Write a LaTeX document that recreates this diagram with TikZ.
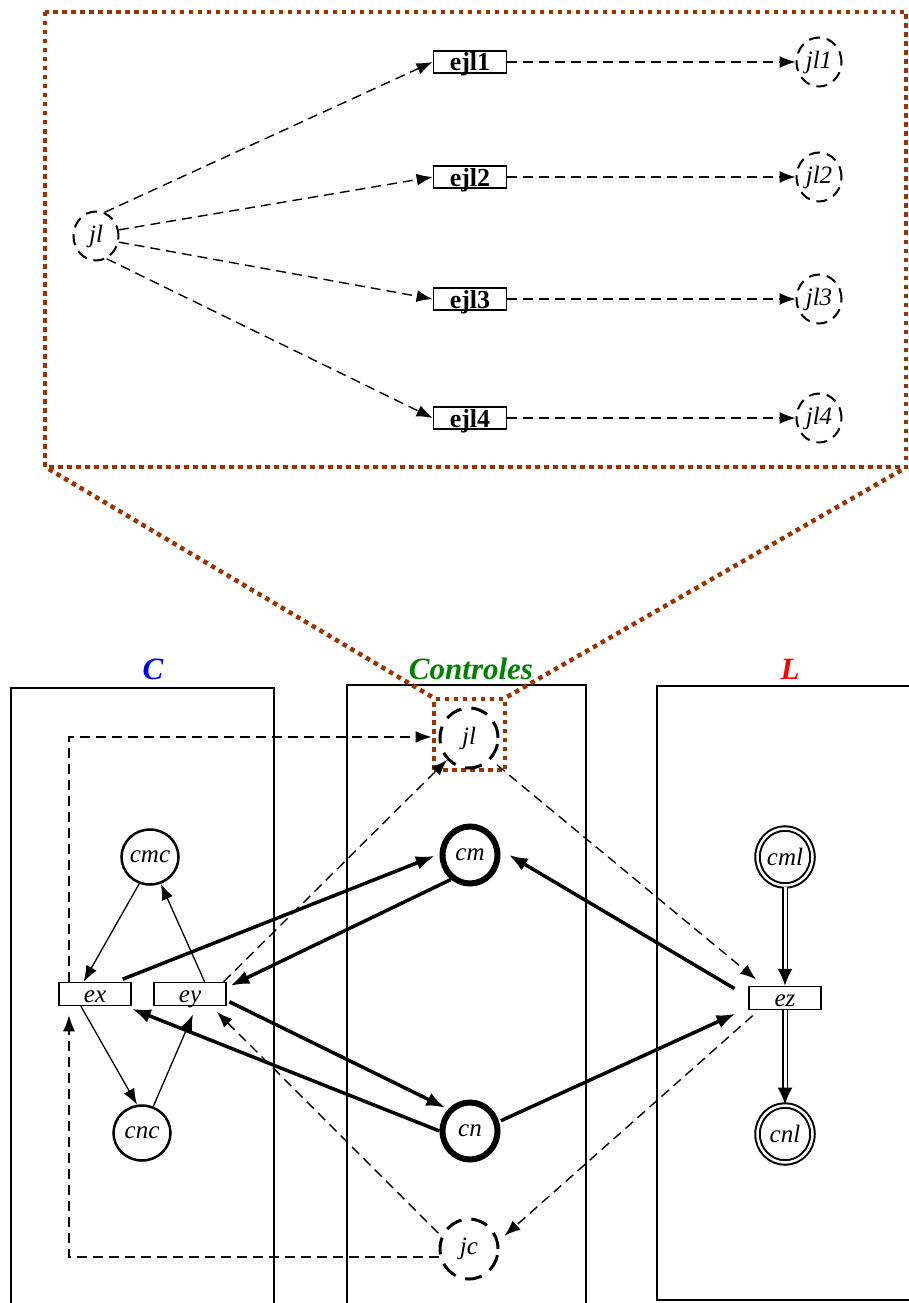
\documentclass[tikz,border=0pt]{standalone}
\usepackage{fontspec}
\setmainfont{Liberation Serif}
\usetikzlibrary{arrows.meta,shapes.geometric,calc}
\definecolor{brn}{RGB}{153,51,0}
\definecolor{cgreen}{RGB}{0,128,0}
\begin{document}
\begin{tikzpicture}[x=1pt,y=-1pt,
 lbl/.style={font=\fontsize{25}{27}\selectfont\itshape},
 title/.style={font=\fontsize{31}{33}\selectfont\bfseries\itshape},
 zoomline/.style={draw=brn, line width=4.5pt, dash pattern=on 4.5pt off 4.5pt},
 colbox/.style={line width=1.5pt},
 ebox/.style={draw, line width=1.8pt, rectangle, inner sep=0pt, minimum width=73pt, text height=20pt, text depth=2pt, inner ysep=0pt, font=\fontsize{26}{28}\selectfont\bfseries},
 sbox/.style={draw, line width=1.5pt, rectangle, inner sep=0pt, minimum width=72pt, text height=19pt, text depth=2pt, inner ysep=1pt, lbl},
 jlsmall/.style={draw, ellipse, dash pattern=on 11pt off 7pt, line width=2pt, inner sep=0pt, minimum width=45pt, minimum height=49pt, lbl},
 jlbig/.style={draw, ellipse, dash pattern=on 17pt off 10pt, line width=3pt, inner sep=0pt, minimum width=58pt, minimum height=60pt, lbl},
 plain/.style={draw, ellipse, line width=2.5pt, inner sep=0pt, minimum width=57pt, minimum height=55pt, lbl},
 heavy/.style={draw, ellipse, line width=6pt, inner sep=0pt, minimum width=55pt, minimum height=57pt, lbl},
 dbl/.style={draw, ellipse, double, double distance=2.5pt, line width=2pt, inner sep=0pt, minimum width=55pt, minimum height=57pt, lbl},
 arr/.style={-{Latex[length=16pt,width=12pt]}},
 thinarr/.style={arr, line width=1.3pt},
 thickarr/.style={-{Latex[length=19pt,width=14pt]}, line width=3.5pt},
 dsh/.style={arr, line width=1.4pt, dash pattern=on 10pt off 6pt},
 dblarr/.style={double, double distance=3pt, line width=1.6pt, -{Latex[length=17pt,width=15pt]}}
]
\useasboundingbox (0,0) rectangle (909,1303);

% ---------- magnified view ----------
\draw[zoomline] (45,12) rectangle (906,467);
\node[jlsmall] (jlz) at (96,236) {jl};
\node[ebox] (e1) at (470,62) {ejl1};
\node[ebox] (e2) at (470,177) {ejl2};
\node[ebox] (e3) at (470,299) {ejl3};
\node[ebox] (e4) at (470,418) {ejl4};
\node[jlsmall] (j1) at (819,62) {jl1};
\node[jlsmall] (j2) at (819,177) {jl2};
\node[jlsmall] (j3) at (819,299) {jl3};
\node[jlsmall] (j4) at (819,418) {jl4};
\draw[dsh] (jlz.70) -- (e1.west);
\draw[dsh] (jlz.15) -- (e2.west);
\draw[dsh] (jlz.-15) -- (e3.west);
\draw[dsh] (jlz.-65) -- (e4.west);
\draw[dsh] (e1.east) -- (j1.west);
\draw[dsh] (e2.east) -- (j2.west);
\draw[dsh] (e3.east) -- (j3.west);
\draw[dsh] (e4.east) -- (j4.west);

% ---------- columns ----------
\draw[colbox] (11,1310) -- (11,688) -- (274,688) -- (274,1310);
\draw[colbox] (347,1310) -- (347,685) -- (586,685) -- (586,1310);
\draw[colbox] (920,1300) -- (657,1300) -- (657,686) -- (920,686);
\node[title, text=blue] (tC) at (153,669) {C};
\node[title, text=cgreen] (tCt) at (471,669) {Controles};
\node[title, text=red] (tL) at (790,669) {L};

% ---------- zoom frame on jl ----------
\node[draw=brn, line width=4.5pt, dash pattern=on 4.5pt off 4.5pt, minimum width=71pt, minimum height=71pt, inner sep=0pt] (zb) at (469.5,734.5) {};
\draw[zoomline] (zb.north west) -- (47,468);
\draw[zoomline] (zb.north east) -- (905,468);

% ---------- nodes ----------
\node[jlbig] (jl) at (469,738) {jl};
\node[plain] (cmc) at (150,857) {cmc};
\node[heavy] (cm) at (470,855) {cm};
\node[dbl] (cml) at (785,857) {cml};
\node[sbox] (ex) at (95,994) {ex};
\node[sbox] (ey) at (190,994) {ey};
\node[sbox] (ez) at (785,998) {ez};
\node[plain] (cnc) at (142,1133) {cnc};
\node[heavy] (cn) at (470,1131) {cn};
\node[dbl] (cnl) at (785,1134) {cnl};
\node[jlbig] (jc) at (469,1249) {jc};

% ---------- thin arrows ----------
\draw[thinarr] (cmc.-112) -- (ex.133);
\draw[thinarr] (ey.40) -- (cmc.-68);
\draw[thinarr] (ex.-139) -- (cnc.100);
\draw[thinarr, shorten >=9pt] (cnc.67) -- (ey.-62);

% ---------- thick arrows ----------
\draw[thickarr, shorten <=7pt, shorten >=5pt] (ex.30) -- (cm.178);
\draw[thickarr, shorten >=4pt] (cm.-128) -- (ey.10);
\draw[thickarr, shorten <=3pt, shorten >=3pt] (ey.-10) -- (cn.135);
\draw[thickarr, shorten >=7pt] (cn.180) -- (ex.-22);
\draw[thickarr, shorten <=2pt, shorten >=14pt] (cn.18) -- (ez.-165);
\draw[thickarr, shorten <=16pt, shorten >=10pt] (ez.178) -- (cm.10);

% ---------- double arrows ----------
\draw[dblarr] (cml) -- (ez);
\draw[dblarr] (ez) -- (cnl);

% ---------- dashed arrows ----------
\draw[dsh, shorten <=8pt, shorten >=10pt] (jl.-45) -- (ez.150);
\draw[dsh, shorten <=8pt, shorten >=8pt] (ez.-155) -- (jc.15);
\draw[dsh, shorten <=4pt, shorten >=8pt] (jc.155) -- (ey.-30);
\draw[dsh] (ey.20) -- (jl.-135);
\draw[dsh, shorten >=9pt] (jc.195) -| ([xshift=-26pt]ex.south);
\draw[dsh, shorten >=7pt] ([xshift=-26pt]ex.north) |- (jl.178);
\end{tikzpicture}
\end{document}
